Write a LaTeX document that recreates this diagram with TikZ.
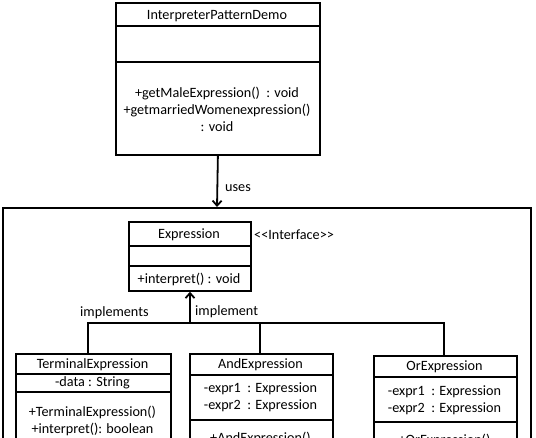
\documentclass[tikz,border=0pt]{standalone}
\usepackage{fontspec}
\setmainfont{Carlito}
\usetikzlibrary{arrows.meta}
\begin{document}
\begin{tikzpicture}[x=1pt,y=-1pt,
  box/.style={draw=black,line width=1.8pt,rectangle,inner sep=0pt,anchor=north west},
  txt/.style={inner sep=0pt,font=\fontsize{14.2}{17}\selectfont,align=center},
  conn/.style={line width=1.8pt},
  tip/.style={-{Straight Barb[length=5pt,width=9pt,line width=1.8pt]}}]
\useasboundingbox (0,0) rectangle (536,438);
\clip (0,0) rectangle (536,438);
% outer package frame
\node[box,minimum width=528,minimum height=260] (pkg) at (2,207) {};
% InterpreterPatternDemo
\node[box,minimum width=204,minimum height=152] (demo) at (115,2) {};
\draw[conn] (115,26) -- (319,26);
\draw[conn] (115,62) -- (319,62);
\node[txt] (demoT) at (217,16) {InterpreterPatternDemo};
\node[txt] (demoM) at (217,109) {+getMaleExpression()\ \ : void\\+getmarriedWomenexpression()\\: void};
% uses arrow
\coordinate (pkgtop) at (217,207);
\draw[conn,tip] (demo.south) -- (pkgtop);
\node[txt,anchor=west] (uses) at (225,188) {uses};
% Expression
\node[box,minimum width=122,minimum height=69] (expr) at (128,221) {};
\draw[conn] (128,246) -- (250,246);
\draw[conn] (128,266) -- (250,266);
\node[txt] (exprT) at (189,235) {Expression};
\node[txt] (exprM) at (189,279) {+interpret() : void};
\node[txt,anchor=west] (iface) at (254,235) {\mbox{<}\mbox{<}Interface\mbox{>}\mbox{>}};
% Terminal
\node[box,minimum width=155,minimum height=120] (term) at (15,353) {};
\draw[conn] (15,374) -- (170,374);
\draw[conn] (15,392) -- (170,392);
\node[txt] (termT) at (92.5,365) {TerminalExpression};
\node[txt] (termA) at (92.5,383) {-data : String};
\node[txt] (termM) at (92.5,421) {+TerminalExpression()\\+interpret(): boolean};
% And
\node[box,minimum width=143,minimum height=120] (and) at (189,353) {};
\draw[conn] (189,375) -- (332,375);
\draw[conn] (189,420) -- (332,420);
\node[txt] (andT) at (260.5,365) {AndExpression};
\node[txt] (andA) at (260.5,397.5) {-expr1\ \ : Expression\\-expr2\ \ : Expression};
\node[txt] (andM) at (260.5,438) {+AndExpression()};
% Or
\node[box,minimum width=143,minimum height=120] (or) at (373,355) {};
\draw[conn] (373,377) -- (516,377);
\draw[conn] (373,422) -- (516,422);
\node[txt] (orT) at (444.5,367) {OrExpression};
\node[txt] (orA) at (444.5,400.5) {-expr1\ \ : Expression\\-expr2\ \ : Expression};
\node[txt] (orM) at (444.5,440) {+OrExpression()};
% implements connectors
\coordinate (hub) at (190,323);
\draw[conn] (term.north -| 88,0) |- (hub);
\draw[conn] (hub) -| (and.north -| 260,0);
\draw[conn] (260,323) -| (or.north -| 444,0);
\draw[conn,tip] (hub) -- (expr.south -| hub);
\node[txt,anchor=west] (impl1) at (80,313) {implements};
\node[txt,anchor=west] (impl2) at (195,312) {implement};
\end{tikzpicture}
\end{document}
